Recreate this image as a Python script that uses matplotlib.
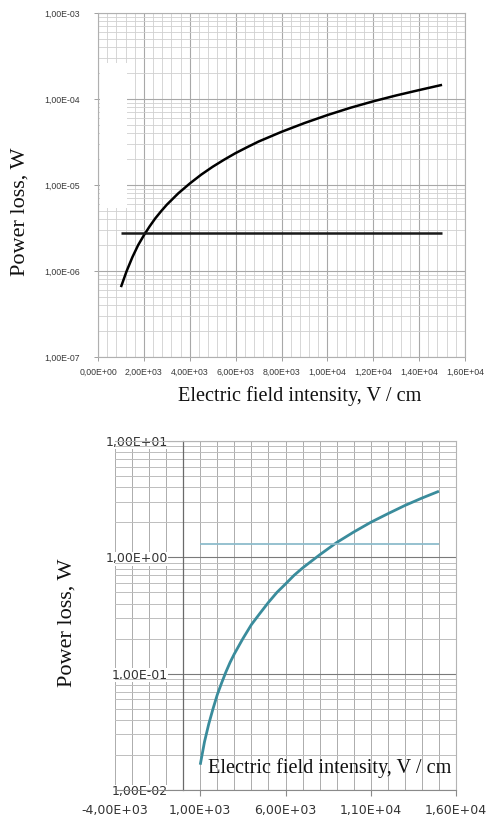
import matplotlib
matplotlib.use("Agg")
import matplotlib.pyplot as plt
from matplotlib.ticker import FixedLocator, MultipleLocator, LogLocator, FuncFormatter, NullFormatter
from matplotlib.patches import Rectangle

# upper chart (black)
field_top = [1000, 1250, 1500, 1750, 2000, 2250, 2500, 2750, 3000, 3500, 4000,
             4500, 5000, 5500, 6000, 6500, 7000, 8000, 9000, 10000, 11000,
             12000, 13000, 14000, 15000]
loss_top = [6.5e-7, 1.0e-6, 1.45e-6, 2.0e-6, 2.6e-6, 3.3e-6, 4.1e-6, 4.95e-6,
            5.9e-6, 8.0e-6, 1.04e-5, 1.32e-5, 1.63e-5, 1.97e-5, 2.35e-5, 2.75e-5,
            3.2e-5, 4.15e-5, 5.25e-5, 6.5e-5, 7.9e-5, 9.4e-5, 1.1e-4, 1.27e-4, 1.46e-4]
level_x_top = [1000, 15000]
level_top = [2.75e-6, 2.75e-6]

# lower chart (teal)
field_bot = [1000, 1250, 1500, 1750, 2000, 2250, 2500, 2750, 3000, 3500, 4000,
             4500, 5000, 5500, 6000, 6500, 7000, 8000, 9000, 10000, 11000,
             12000, 13000, 14000, 15000]
loss_bot = [0.0165, 0.026, 0.037, 0.050, 0.066, 0.083, 0.103, 0.125, 0.148, 0.2,
            0.264, 0.33, 0.41, 0.5, 0.59, 0.70, 0.81, 1.05, 1.34, 1.65, 2.0,
            2.37, 2.79, 3.23, 3.7]
level_x_bot = [1000, 15000]
level_bot = [1.3, 1.3]

xlabel = "Electric field intensity, V / cm"
ylabel = "Power loss, W"


def excel_fmt(v, pos=None):
    return f"{v:.2E}".replace(".", ",")


fig = plt.figure(figsize=(4.87, 8.23), dpi=100)
serif = ["Liberation Serif", "DejaVu Serif"]
narrow = ["Liberation Sans Narrow", "Liberation Sans", "DejaVu Sans"]

# ---------- top ----------
ax1 = fig.add_axes([98 / 487, 1 - 357 / 823, 367 / 487, 344 / 823])
ax1.set_yscale("log")
ax1.set_xlim(0, 16000)
ax1.set_ylim(1e-7, 1e-3)
ax1.xaxis.set_major_locator(MultipleLocator(2000))
ax1.xaxis.set_minor_locator(MultipleLocator(400))
ax1.yaxis.set_major_locator(LogLocator(base=10, numticks=10))
ax1.yaxis.set_minor_locator(LogLocator(base=10, subs=range(2, 10), numticks=20))
ax1.xaxis.set_major_formatter(FuncFormatter(excel_fmt))
ax1.yaxis.set_major_formatter(FuncFormatter(excel_fmt))
ax1.yaxis.set_minor_formatter(NullFormatter())
ax1.grid(which="major", color="#a8a8a8", lw=0.8)
ax1.grid(which="minor", color="#d0d0d0", lw=0.6)
ax1.set_axisbelow(True)
for s in ax1.spines.values():
    s.set_color("#b0b0b0")
    s.set_linewidth(0.8)
ax1.tick_params(which="major", length=3, width=0.6, color="#909090", labelsize=6.3,
                labelcolor="#383838")
ax1.tick_params(axis="y", pad=10)
ax1.tick_params(axis="x", pad=5)
ax1.tick_params(which="minor", length=0)
for lbl in ax1.get_xticklabels() + ax1.get_yticklabels():
    lbl.set_family(narrow)

ax1.plot(field_top, loss_top, color="black", lw=1.8, solid_capstyle="butt")
ax1.plot(level_x_top, level_top, color="#1a1a1a", lw=1.8, solid_capstyle="butt")

fig.text(20 / 487, 1 - 212 / 823, ylabel, rotation=90, ha="center", va="center",
         fontsize=16, family=serif, color="#111111")
fig.text(300 / 487, 1 - 396 / 823, xlabel, ha="center", va="center",
         fontsize=14.6, family=serif, color="#111111")

# white scan patch over the grid
fig.add_artist(Rectangle((100 / 487, 1 - 208 / 823), 27 / 487, 145 / 823,
                         transform=fig.transFigure, facecolor="white",
                         edgecolor="none", zorder=5))

# ---------- bottom ----------
ax2 = fig.add_axes([115 / 487, 1 - 790 / 823, 341 / 487, 349 / 823])
ax2.set_yscale("log")
ax2.set_xlim(-4000, 16000)
ax2.set_ylim(1e-2, 1e1)
ax2.xaxis.set_major_locator(FixedLocator([-4000, 1000, 6000, 11000, 16000]))
ax2.xaxis.set_minor_locator(MultipleLocator(1000))
ax2.yaxis.set_major_locator(LogLocator(base=10, numticks=10))
ax2.yaxis.set_minor_locator(LogLocator(base=10, subs=range(2, 10), numticks=20))
ax2.xaxis.set_major_formatter(FuncFormatter(excel_fmt))
ax2.yaxis.set_major_formatter(FuncFormatter(excel_fmt))
ax2.yaxis.set_minor_formatter(NullFormatter())
ax2.grid(which="major", axis="y", color="#7a7a7a", lw=0.8)
ax2.grid(which="minor", axis="y", color="#bdbdbd", lw=0.7)
ax2.grid(which="both", axis="x", color="#acacac", lw=0.7)
ax2.set_axisbelow(True)
ax2.spines["left"].set_position(("data", 0))
ax2.spines["left"].set_color("#6a6a6a")
ax2.spines["left"].set_linewidth(0.9)
ax2.spines["bottom"].set_color("#8a8a8a")
ax2.spines["right"].set_color("#b4b4b4")
ax2.spines["top"].set_color("#b4b4b4")
ax2.tick_params(axis="y", which="both", length=0, pad=11, labelsize=9,
                labelcolor="#333333")
ax2.tick_params(axis="x", which="major", length=4, width=0.8, color="#8a8a8a",
                labelsize=9, labelcolor="#333333", pad=6)
ax2.tick_params(axis="x", which="minor", length=0)
for lbl in ax2.get_yticklabels():
    lbl.set_bbox(dict(facecolor="white", edgecolor="none", pad=0.3))

ax2.plot(field_bot, loss_bot, color="#3a8c9c", lw=2.0, solid_capstyle="butt")
ax2.plot(level_x_bot, level_bot, color="#8dbccb", lw=1.3, solid_capstyle="butt")

ax2.text(0.63, 0.063, xlabel, transform=ax2.transAxes, ha="center", va="center",
         fontsize=14.6, family=serif, color="#111111")
fig.text(67 / 487, 1 - 623 / 823, ylabel, rotation=90, ha="center", va="center",
         fontsize=16, family=serif, color="#111111")

fig.savefig("out.png", dpi=100, facecolor="white")
